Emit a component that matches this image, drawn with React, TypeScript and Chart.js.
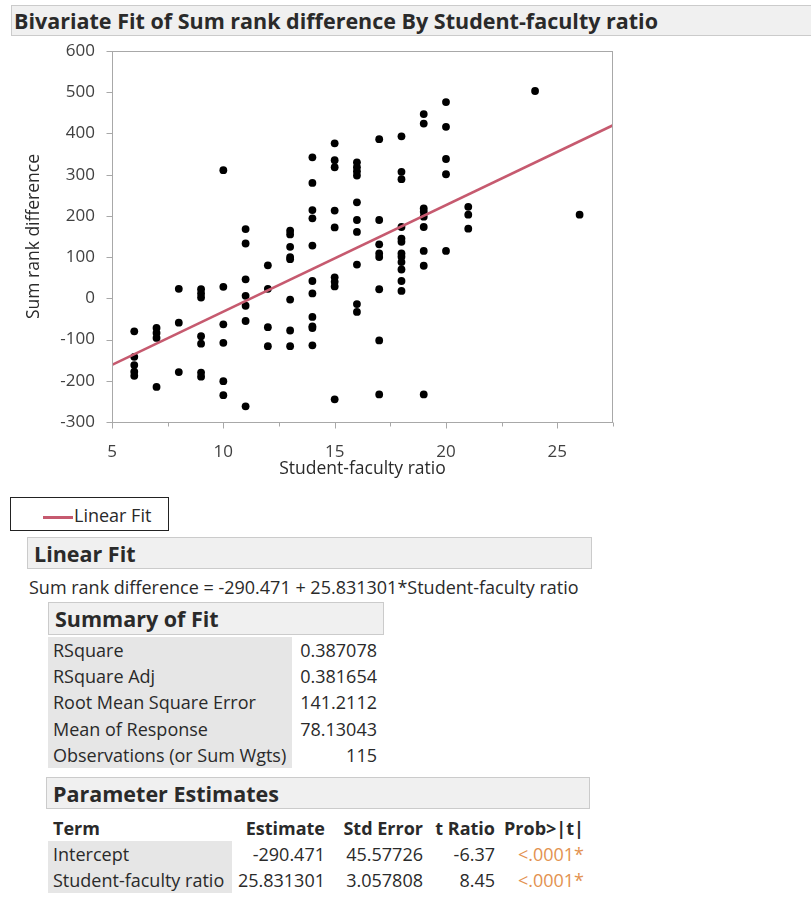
import React, { useEffect, useRef } from 'react';
import { Chart, registerables } from 'chart.js';
Chart.register(...registerables);

// ---- data ----
const studentFacultyRatio = [
  6, 6, 6, 6, 6,
  7, 7, 7, 7,
  8, 8, 8,
  9, 9, 9, 9, 9, 9, 9,
  10, 10, 10, 10, 10, 10,
  11, 11, 11, 11, 11, 11, 11,
  12, 12, 12, 12,
  13, 13, 13, 13, 13, 13, 13, 13,
  14, 14, 14, 14, 14, 14, 14, 14, 14, 14, 14,
  15, 15, 15, 15, 15, 15, 15, 15, 15,
  16, 16, 16, 16, 16, 16, 16, 16, 16, 16,
  17, 17, 17, 17, 17, 17, 17, 17,
  18, 18, 18, 18, 18, 18, 18, 18, 18, 18, 18, 18,
  19, 19, 19, 19, 19, 19, 19, 19, 19,
  20, 20, 20, 20, 20,
  21, 21, 21,
  24,
  26,
];
const sumRankDifference = [
  -80, -142, -162, -178, -188,
  -72, -84, -96, -215,
  23, -59, -179,
  22, 12, 2, -92, -110, -180, -190,
  311, 28, -63, -108, -201, -235,
  168, 133, 46, 6, -18, -55, -262,
  80, 23, -70, -116,
  164, 155, 125, 100, 95, -3, -78, -116,
  342, 280, 214, 194, 128, 42, 12, -45, -68, -72, -114,
  376, 335, 318, 213, 172, 51, 40, 29, -245,
  330, 318, 308, 298, 233, 190, 161, 82, -14, -33,
  386, 190, 131, 109, 100, 22, -102, -233,
  393, 307, 289, 173, 145, 137, 109, 101, 88, 70, 42, 18,
  447, 424, 218, 210, 198, 173, 115, 79, -233,
  476, 416, 338, 301, 115,
  222, 203, 169,
  503,
  203,
];
const fitIntercept = -290.471;
const fitSlope = 25.831301;
const xRange = [5, 27.5];
const yRange = [-300, 600];

const summaryLabels = ['RSquare', 'RSquare Adj', 'Root Mean Square Error', 'Mean of Response', 'Observations (or Sum Wgts)'];
const summaryValues = ['0.387078', '0.381654', '141.2112', '78.13043', '115'];

const paramHeaders = ['Term', 'Estimate', 'Std Error', 't Ratio', 'Prob>|t|'];
const paramTerms = ['Intercept', 'Student-faculty ratio'];
const paramEstimates = ['-290.471', '25.831301'];
const paramStdErrors = ['45.57726', '3.057808'];
const paramTRatios = ['-6.37', '8.45'];
const paramProbs = ['<.0001*', '<.0001*'];

// ---- styles ----
const FONT = '"Open Sans", "Noto Sans", sans-serif';
const AXIS_COLOR = '#a8a8a8';
const TICK_TEXT = '#404040';
const FIT_COLOR = '#c65a6f';
const TEXT = '#2a2a2a';
const HEADER_BG = '#f0f0f0';
const HEADER_BORDER = '#cbcbcb';
const LABEL_BG = '#e6e6e6';
const PROB_COLOR = '#e39250';
const BODY = 18;
const HEAD = 21.5;

const frameTicksPlugin = {
  id: 'frameTicks',
  afterDraw(chart: any) {
    const { ctx, chartArea: a, scales } = chart;
    const xs = scales.x;
    const ys = scales.y;
    ctx.save();
    ctx.strokeStyle = AXIS_COLOR;
    ctx.lineWidth = 1;
    ctx.strokeRect(Math.round(a.left) + 0.5, Math.round(a.top) + 0.5, Math.round(a.right - a.left) - 1, Math.round(a.bottom - a.top));
    ctx.beginPath();
    xs.ticks.forEach((t: any) => {
      const px = Math.round(xs.getPixelForValue(t.value)) + 0.5;
      const major = t.value % 5 === 0;
      const y0 = Math.round(a.bottom) + 0.5;
      ctx.moveTo(px, y0);
      ctx.lineTo(px, y0 + (major ? 6 : 4));
    });
    ys.ticks.forEach((t: any) => {
      const py = Math.round(ys.getPixelForValue(t.value)) + 0.5;
      const x0 = Math.round(a.left) + 0.5;
      ctx.moveTo(x0, py);
      ctx.lineTo(x0 - 6, py);
    });
    ctx.stroke();
    ctx.restore();
  },
};

function ScatterChart() {
  const ref = useRef<HTMLCanvasElement | null>(null);
  useEffect(() => {
    if (!ref.current) return;
    const points = studentFacultyRatio.map((x, i) => ({ x, y: sumRankDifference[i] }));
    const fitLine = xRange.map((x) => ({ x, y: fitIntercept + fitSlope * x }));
    const chart = new Chart(ref.current, {
      type: 'scatter',
      data: {
        datasets: [
          {
            type: 'line',
            label: 'Linear Fit',
            data: fitLine,
            borderColor: FIT_COLOR,
            borderWidth: 2.5,
            pointRadius: 0,
            fill: false,
            order: 0,
          } as any,
          {
            label: 'Sum rank difference',
            data: points,
            backgroundColor: '#000000',
            borderWidth: 0,
            pointRadius: 3.9,
            order: 1,
          },
        ],
      },
      options: {
        animation: false,
        responsive: false,
        devicePixelRatio: 1,
        layout: { padding: { left: 0, top: 51, right: 27, bottom: 8 } },
        plugins: { legend: { display: false }, tooltip: { enabled: false } },
        scales: {
          x: {
            type: 'linear',
            min: xRange[0],
            max: xRange[1],
            afterFit: (s: any) => { s.height = 60; },
            grid: { display: false },
            border: { display: false },
            ticks: {
              stepSize: 2.5,
              autoSkip: false,
              maxRotation: 0,
              padding: 12,
              color: TICK_TEXT,
              font: { family: FONT, size: 17 },
              callback: (v: any) => (Number(v) % 5 === 0 ? String(v) : ''),
            },
            title: {
              display: true,
              text: 'Student-faculty ratio',
              color: TEXT,
              font: { family: FONT, size: 17.5 },
              padding: { top: 0, bottom: 2 },
            },
          },
          y: {
            type: 'linear',
            min: yRange[0],
            max: yRange[1],
            afterFit: (s: any) => { s.width = 112; },
            grid: { display: false },
            border: { display: false },
            ticks: {
              stepSize: 100,
              padding: 9,
              color: TICK_TEXT,
              font: { family: FONT, size: 17 },
            },
            title: {
              display: true,
              text: 'Sum rank difference',
              color: TEXT,
              font: { family: FONT, size: 17.5 },
              padding: { top: 24, bottom: 0 },
            },
          },
        },
      },
      plugins: [frameTicksPlugin],
    });
    return () => chart.destroy();
  }, []);
  return (
    <canvas
      ref={ref}
      width={640}
      height={490}
      style={{ position: 'absolute', left: 0, top: 0, width: 640, height: 490 }}
    />
  );
}

function HeaderBox(props: { left: number; top: number; width: number; height: number; text: string; size: number; pad?: number }) {
  const { left, top, width, height, text, size, pad = 6 } = props;
  return (
    <div
      style={{
        position: 'absolute', left, top, width, height, boxSizing: 'border-box',
        background: HEADER_BG, border: `1px solid ${HEADER_BORDER}`,
        fontFamily: FONT, fontWeight: 700, fontSize: size, color: TEXT,
        display: 'flex', alignItems: 'center', paddingLeft: pad, whiteSpace: 'nowrap', overflow: 'hidden',
      }}
    >
      {text}
    </div>
  );
}

function Cell(props: { left: number; top: number; width: number; height: number; text: string; align?: 'left' | 'right'; bg?: string; bold?: boolean; color?: string; pad?: number }) {
  const { left, top, width, height, text, align = 'left', bg, bold, color = TEXT, pad = 5 } = props;
  return (
    <div
      style={{
        position: 'absolute', left, top, width, height, boxSizing: 'border-box',
        background: bg || 'transparent', fontFamily: FONT, fontSize: BODY, fontWeight: bold ? 700 : 400,
        color, textAlign: align, lineHeight: `${height}px`, whiteSpace: 'nowrap',
        paddingLeft: align === 'left' ? pad : 0, paddingRight: align === 'right' ? pad : 0,
      }}
    >
      {text}
    </div>
  );
}

export default function App() {
  const rowH = 26.2;
  const sumTop = 637;
  const paramTop = 815;
  const pRowH = 26;
  // column right edges for parameter table
  const colRights = [0, 325, 423, 495, 584];
  const colWidths = [184, 95, 95, 70, 88];
  const paramCols = [paramTerms, paramEstimates, paramStdErrors, paramTRatios, paramProbs];
  return (
    <div style={{ position: 'absolute', left: 0, top: 0, width: 811, height: 898, background: '#fff', overflow: 'hidden' }}>
      <HeaderBox left={11} top={5} width={810} height={31} text="Bivariate Fit of Sum rank difference By Student-faculty ratio" size={HEAD} pad={2} />
      <ScatterChart />
      {/* legend */}
      <div style={{ position: 'absolute', left: 10, top: 497, width: 159, height: 34, boxSizing: 'border-box', border: '1px solid #222', background: '#fff' }}>
        <div style={{ position: 'absolute', left: 32, top: 18, width: 30, height: 2.5, background: FIT_COLOR }} />
        <div style={{ position: 'absolute', left: 63, top: 0, height: 32, lineHeight: '34px', fontFamily: FONT, fontSize: BODY, color: TEXT, whiteSpace: 'nowrap' }}>Linear Fit</div>
      </div>
      <HeaderBox left={27} top={537} width={565} height={32} text="Linear Fit" size={HEAD} />
      <div style={{ position: 'absolute', left: 29, top: 576, lineHeight: '22px', fontFamily: FONT, fontSize: BODY, color: TEXT, whiteSpace: 'nowrap' }}>
        {`Sum rank difference = ${fitIntercept} + ${fitSlope}*Student-faculty ratio`}
      </div>
      <HeaderBox left={48} top={602} width={336} height={33} text="Summary of Fit" size={HEAD} />
      <div style={{ position: 'absolute', left: 48, top: sumTop, width: 244, height: rowH * summaryLabels.length, background: LABEL_BG }} />
      {summaryLabels.map((lab, i) => (
        <React.Fragment key={lab}>
          <Cell left={48} top={sumTop + i * rowH} width={244} height={rowH} text={lab} />
          <Cell left={292} top={sumTop + i * rowH} width={92} height={rowH} text={summaryValues[i]} align="right" pad={7} />
        </React.Fragment>
      ))}
      <HeaderBox left={46} top={777} width={544} height={32} text="Parameter Estimates" size={HEAD} />
      {paramHeaders.map((h, c) => (
        c === 0 ? (
          <Cell key={h} left={48} top={paramTop} width={colWidths[0]} height={pRowH} text={h} bold />
        ) : (
          <Cell key={h} left={colRights[c] - colWidths[c]} top={paramTop} width={colWidths[c]} height={pRowH} text={h} bold align="right" pad={0} />
        )
      ))}
      <div style={{ position: 'absolute', left: 48, top: paramTop + pRowH, width: 184, height: pRowH * paramTerms.length, background: LABEL_BG }} />
      {paramTerms.map((_, r) => (
        <React.Fragment key={r}>
          {paramCols.map((col, c) => (
            c === 0 ? (
              <Cell key={c} left={48} top={paramTop + (r + 1) * pRowH} width={184} height={pRowH} text={col[r]} />
            ) : (
              <Cell key={c} left={colRights[c] - colWidths[c]} top={paramTop + (r + 1) * pRowH} width={colWidths[c]} height={pRowH} text={col[r]} align="right" pad={0} color={c === 4 ? PROB_COLOR : TEXT} />
            )
          ))}
        </React.Fragment>
      ))}
    </div>
  );
}
